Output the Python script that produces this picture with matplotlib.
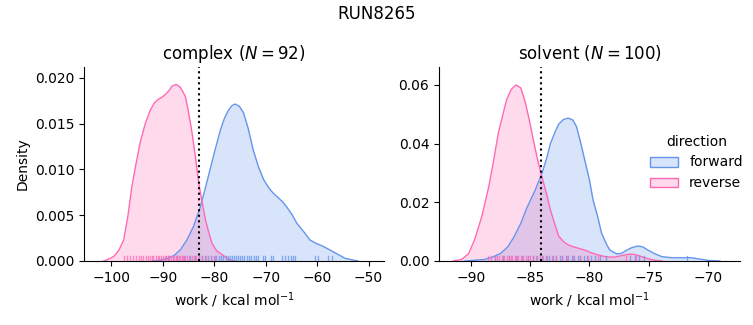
import matplotlib
matplotlib.use("Agg")
import matplotlib.pyplot as plt
from matplotlib.patches import Patch

# ---- data ----
suptitle = "RUN8265"
panels = ["complex", "solvent"]
n_samples = [92, 100]
directions = ["forward", "reverse"]
colors = {"forward": "#6495ED", "reverse": "#FF69B4"}

# complex: density curves (x, density)
cx_rev = [-101.5, -100.9, -99.5, -98.5, -97.6, -96.8, -96.0, -95.2, -94.4, -93.4, -92.4, -91.6, -90.8,
          -90.1, -89.5, -88.8, -88.2, -87.4, -86.6, -85.6, -85.0, -84.3, -83.6, -83.0, -82.3, -81.7,
          -81.0, -80.4, -79.5, -78.2, -77.5, -76.9, -76.0]
cy_rev = [0.0, 0.0001, 0.0005, 0.0012, 0.0023, 0.0048, 0.0081, 0.0106, 0.0129, 0.0150, 0.0165, 0.0173, 0.0177,
          0.0179, 0.0182, 0.0186, 0.0191, 0.0193, 0.0190, 0.0180, 0.0163, 0.0140, 0.0112, 0.0085, 0.0063, 0.0045,
          0.0030, 0.0019, 0.0011, 0.0006, 0.0003, 0.0001, 0.0]
cx_fwd = [-92.0, -90.5, -89.0, -87.8, -86.6, -85.3, -84.0, -82.7, -81.7, -80.8, -79.8, -78.8, -78.0, -77.2,
          -76.5, -75.9, -75.1, -74.3, -73.4, -72.4, -71.4, -70.4, -69.4, -68.5, -67.5, -66.6, -65.9,
          -64.9, -63.9, -62.6, -61.4, -60.1, -58.8, -57.5, -56.2, -54.6, -53.0, -52.0]
cy_fwd = [0.0, 0.0001, 0.0003, 0.0006, 0.0012, 0.0023, 0.0038, 0.0059, 0.0080, 0.0100, 0.0122, 0.0143, 0.0156, 0.0165,
          0.0170, 0.01715, 0.0169, 0.0162, 0.0145, 0.0121, 0.0103, 0.0089, 0.0080, 0.0074, 0.0069, 0.0064, 0.0059,
          0.0051, 0.0041, 0.0032, 0.0023, 0.0019, 0.0016, 0.0012, 0.0008, 0.0003, 0.0001, 0.0]

# solvent: density curves (x, density)
sx_rev = [-91.5, -90.8, -90.2, -89.7, -89.1, -88.5, -88.1, -87.7, -87.3, -87.0, -86.6, -86.2, -85.8, -85.4,
          -85.0, -84.6, -84.3, -84.0, -83.6, -83.3, -82.9, -82.6, -82.2, -81.8, -81.4, -80.9, -80.3, -79.8,
          -79.2, -78.7, -78.2, -77.8, -77.2, -76.7, -76.3, -75.9, -75.4, -74.8, -74.3, -73.9]
sy_rev = [0.0, 0.0005, 0.0025, 0.0072, 0.0150, 0.0253, 0.0340, 0.0435, 0.0500, 0.0549, 0.0585, 0.0600, 0.0590, 0.0538,
          0.0465, 0.0385, 0.0332, 0.0285, 0.0225, 0.0174, 0.0122, 0.0085, 0.0066, 0.0055, 0.0049, 0.0043, 0.0036, 0.0027,
          0.0020, 0.0015, 0.0013, 0.0014, 0.0019, 0.0023, 0.0023, 0.0019, 0.0012, 0.0005, 0.0002, 0.0]
sx_fwd = [-90.5, -88.9, -88.2, -87.5, -86.9, -86.4, -85.8, -85.3, -84.6, -84.0, -83.6, -83.3, -82.9, -82.6,
          -82.2, -81.8, -81.4, -81.1, -80.8, -80.4, -80.0, -79.7, -79.3, -79.0, -78.6, -78.3, -77.7, -77.3,
          -76.9, -76.4, -75.9, -75.5, -75.1, -74.5, -73.9, -73.3, -72.8, -71.4, -70.6, -70.0, -69.0]
sy_fwd = [0.0, 0.0005, 0.0013, 0.0026, 0.0048, 0.0080, 0.0128, 0.0180, 0.0240, 0.0300, 0.0352, 0.0400, 0.0440, 0.0466,
          0.0482, 0.0487, 0.0480, 0.0458, 0.0412, 0.0344, 0.0275, 0.0208, 0.0150, 0.0097, 0.0060, 0.0038, 0.0024, 0.0026,
          0.0036, 0.0046, 0.0051, 0.0048, 0.0038, 0.0025, 0.0015, 0.0012, 0.0011, 0.0011, 0.0006, 0.0002, 0.0]

# rug positions (work values)
c_rug_rev = [-97.6, -96.9, -96.4, -95.8, -95.1, -94.7, -94.2, -93.8, -93.3, -92.9, -92.5, -92.1, -91.8,
             -91.4, -91.0, -90.7, -90.3, -90.0, -89.6, -89.3, -89.0, -88.7, -88.4, -88.1, -87.8, -87.5,
             -87.2, -86.9, -86.6, -86.3, -86.0, -85.6, -85.2, -84.8, -84.4, -84.0, -83.5, -82.9, -82.4, -81.6,
             -80.7, -79.9]
c_rug_fwd = [-88.9, -87.2, -85.9, -84.7, -83.8, -82.9, -82.3, -81.7, -81.2, -80.6, -80.1, -79.6, -79.1,
             -78.7, -78.2, -77.8, -77.4, -77.0, -76.6, -76.2, -75.8, -75.4, -75.0, -74.6, -74.2, -73.7,
             -73.3, -72.8, -72.3, -71.8, -71.5, -70.6, -70.1, -68.9, -68.6, -66.9, -66.3, -65.7, -65.1,
             -64.6, -64.3, -60.4, -59.8, -57.8, -57.2]
s_rug_rev = [-88.6, -88.3, -88.0, -87.8, -87.6, -87.4, -87.2, -87.0, -86.8, -86.6, -86.5, -86.3, -86.1,
             -86.0, -85.8, -85.6, -85.4, -85.2, -85.0, -84.8, -84.5, -84.2, -83.9, -83.6, -83.2, -82.8,
             -82.3, -81.9, -81.4, -80.8, -80.1, -79.3, -76.9, -76.1]
s_rug_fwd = [-88.0, -87.3, -86.8, -86.2, -85.7, -85.2, -84.8, -84.4, -84.0, -83.7, -83.4, -83.1, -82.8,
             -82.5, -82.3, -82.0, -81.8, -81.5, -81.3, -81.0, -80.8, -80.5, -80.2, -79.9, -79.5, -79.1,
             -78.6, -76.6, -76.2, -75.8, -75.4, -71.8]

vlines = [-82.9, -84.1]

# ---- plotting ----
fig = plt.figure(figsize=(7.53, 3.25), dpi=100)
ax1 = fig.add_axes([84 / 753, 64 / 325, 300 / 753, 194 / 325])
ax2 = fig.add_axes([439 / 753, 64 / 325, 301 / 753, 194 / 325])

curves = [
    {"forward": (cx_fwd, cy_fwd), "reverse": (cx_rev, cy_rev)},
    {"forward": (sx_fwd, sy_fwd), "reverse": (sx_rev, sy_rev)},
]
rugs = [
    {"forward": c_rug_fwd, "reverse": c_rug_rev},
    {"forward": s_rug_fwd, "reverse": s_rug_rev},
]

for ax, panel, n, cur, rug, vl in zip([ax1, ax2], panels, n_samples, curves, rugs, vlines):
    for d in directions:
        x, y = cur[d]
        ax.fill_between(x, y, 0, color=colors[d], alpha=0.25, linewidth=0)
        ax.plot(x, y, color=colors[d], lw=1.0)
    for d in directions:
        for v in rug[d]:
            ax.axvline(v, ymin=0, ymax=0.025, color=colors[d], lw=1.0, alpha=0.75)
    ax.axvline(vl, color="black", ls=":", lw=1.5)
    ax.set_title(f"{panel} ($N = {n}$)", fontsize=12)
    ax.set_xlabel("work / kcal mol$^{-1}$", fontsize=10)
    ax.spines["top"].set_visible(False)
    ax.spines["right"].set_visible(False)
    ax.tick_params(labelsize=10)

ax1.set_xlim(-105.3, -47.0)
ax1.set_ylim(0, 0.0212)
ax1.set_xticks([-100, -90, -80, -70, -60, -50])
ax1.set_yticks([0.0, 0.005, 0.010, 0.015, 0.020])
ax1.set_yticklabels(["0.000", "0.005", "0.010", "0.015", "0.020"])
ax1.set_ylabel("Density", fontsize=10)

ax2.set_xlim(-92.7, -67.3)
ax2.set_ylim(0, 0.0661)
ax2.set_xticks([-90, -85, -80, -75, -70])
ax2.set_yticks([0.0, 0.02, 0.04, 0.06])
ax2.set_yticklabels(["0.00", "0.02", "0.04", "0.06"])

fig.suptitle(suptitle, fontsize=12, y=0.985)

handles = [Patch(facecolor=(*matplotlib.colors.to_rgb(colors[d]), 0.25), edgecolor=colors[d], lw=1.0)
           for d in directions]
fig.legend(handles, directions, title="direction", loc="center left",
           bbox_to_anchor=(0.847, 0.5), frameon=False, fontsize=10, title_fontsize=10)

fig.savefig("out.png", dpi=100)
